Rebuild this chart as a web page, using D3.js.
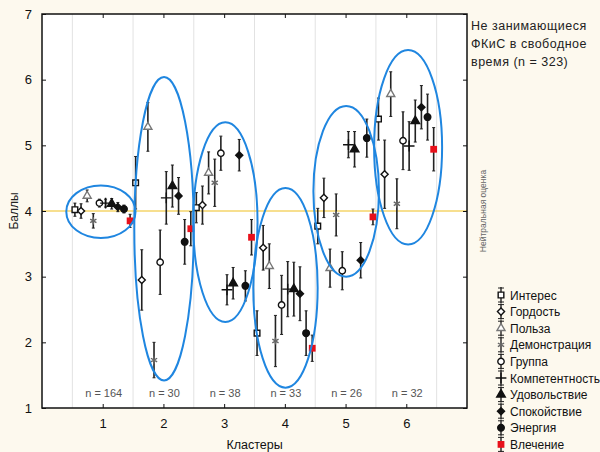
<!DOCTYPE html>
<html>
<head>
<meta charset="utf-8">
<script src="https://cdn.jsdelivr.net/npm/d3@7"></script>
<style>
  body { margin: 0; background: #fdf9ee; }
  svg { display: block; font-family: "Liberation Sans", Arial, sans-serif; }
</style>
</head>
<body>
<script>
'use strict';

// cluster numbers and group sizes
const clusters = [1, 2, 3, 4, 5, 6];
const clusterN = ["n = 164", "n = 30", "n = 38", "n = 33", "n = 26", "n = 32"];
const yTicks = [1, 2, 3, 4, 5, 6, 7];
const neutral = 4;

// motive scales (legend order)
const series = ["Интерес", "Гордость", "Польза", "Демонстрация", "Группа",
  "Компетентность", "Удовольствие", "Спокойствие", "Энергия", "Влечение"];

// mean score of each scale in clusters 1..6
const interes = [4.02, 4.43, 4.05, 2.14, 3.77, 5.40];
const gordost = [4.00, 2.95, 4.09, 3.44, 4.20, 4.56];
const polza = [4.23, 5.28, 4.58, 3.16, 3.13, 5.78];
const demonstr = [3.85, 1.73, 4.43, 2.02, 3.94, 4.11];
const gruppa = [4.12, 3.22, 4.88, 2.57, 3.09, 5.07];
const kompet = [4.12, 4.20, 2.80, 2.81, 5.01, 4.99];
const udovol = [4.11, 4.38, 2.90, 2.81, 4.94, 5.37];
const spokoi = [4.06, 4.23, 4.85, 2.74, 3.25, 5.58];
const energy = [4.03, 3.53, 2.86, 2.14, 5.11, 5.43];
const vlechen = [3.85, 3.73, 3.60, 1.91, 3.91, 4.94];

// half width of the confidence interval
const interesCI = [0.10, 0.40, 0.23, 0.34, 0.27, 0.32];
const gordostCI = [0.11, 0.46, 0.29, 0.34, 0.30, 0.52];
const polzaCI = [0.09, 0.37, 0.32, 0.34, 0.29, 0.34];
const demonstrCI = [0.11, 0.27, 0.36, 0.39, 0.32, 0.38];
const gruppaCI = [0.06, 0.49, 0.26, 0.45, 0.29, 0.44];
const kompetCI = [0.06, 0.40, 0.23, 0.42, 0.20, 0.37];
const udovolCI = [0.08, 0.32, 0.24, 0.41, 0.27, 0.32];
const spokoiCI = [0.07, 0.28, 0.24, 0.41, 0.27, 0.33];
const energyCI = [0.06, 0.34, 0.23, 0.34, 0.29, 0.35];
const vlechenCI = [0.10, 0.26, 0.27, 0.20, 0.12, 0.33];

// ellipses round each cluster (center, radii in data units)
const ellipseCx = [0.97, 2.01, 3.02, 4.01, 5.01, 6.03];
const ellipseCy = [3.99, 3.73, 3.83, 2.83, 4.30, 4.97];
const ellipseRx = [0.57, 0.49, 0.53, 0.53, 0.54, 0.56];
const ellipseRy = [0.40, 2.31, 1.52, 1.52, 1.30, 1.48];

(function () {

  const means = [interes, gordost, polza, demonstr, gruppa, kompet, udovol, spokoi, energy, vlechen];
  const cis = [interesCI, gordostCI, polzaCI, demonstrCI, gruppaCI, kompetCI, udovolCI, spokoiCI, energyCI, vlechenCI];

  // marker style for each scale
  const markers = [
    { type: d3.symbolSquare, size: 32, fill: "#fff", stroke: "#111" },
    { type: d3.symbolDiamond2, size: 32, fill: "#fff", stroke: "#111" },
    { type: d3.symbolTriangle, size: 28, fill: "#fff", stroke: "#777" },
    { type: d3.symbolAsterisk, size: 36, fill: "none", stroke: "#666" },
    { type: d3.symbolCircle, size: 32, fill: "#fff", stroke: "#111" },
    { type: d3.symbolPlus, size: 40, fill: "none", stroke: "#111" },
    { type: d3.symbolTriangle, size: 32, fill: "#111", stroke: "#111" },
    { type: d3.symbolDiamond2, size: 32, fill: "#111", stroke: "#111" },
    { type: d3.symbolCircle, size: 34, fill: "#111", stroke: "#111" },
    { type: d3.symbolSquare, size: 46, fill: "#e8101a", stroke: "none" }
  ];

  const width = 600, height = 452;
  const plot = { left: 42, right: 467, top: 14, bottom: 408 };

  const svg = d3.select("body").append("svg")
    .attr("width", width)
    .attr("height", height);

  const x = d3.scaleLinear().domain([0, 7]).range([plot.left, plot.right]);
  const y = d3.scaleLinear().domain([1, 7]).range([plot.bottom, plot.top]);

  // white plot area
  svg.append("rect")
    .attr("x", plot.left).attr("y", plot.top)
    .attr("width", plot.right - plot.left).attr("height", plot.bottom - plot.top)
    .attr("fill", "#fff");

  // vertical grid between clusters
  svg.append("g").selectAll("line")
    .data(d3.range(0.5, 7, 1))
    .enter().append("line")
    .attr("x1", (d) => x(d)).attr("x2", (d) => x(d))
    .attr("y1", plot.top).attr("y2", plot.bottom)
    .attr("stroke", "#e2e2e2");

  // neutral score line
  svg.append("line")
    .attr("x1", plot.left).attr("x2", plot.right)
    .attr("y1", y(neutral)).attr("y2", y(neutral))
    .attr("stroke", "#f0c020").attr("stroke-width", 1.2);

  // axes, ticks point inside
  const axisStyle = (g) => {
    g.select(".domain").remove();
    g.selectAll("text").attr("fill", "#111").style("font-size", "13px");
    g.selectAll("line").attr("stroke", "#111");
  };
  svg.append("g")
    .attr("transform", "translate(0," + plot.bottom + ")")
    .call(d3.axisBottom(x).tickValues(clusters).tickFormat(d3.format("d"))
      .tickSizeInner(-4).tickPadding(11))
    .call(axisStyle);
  svg.append("g")
    .attr("transform", "translate(0," + plot.top + ")")
    .call(d3.axisTop(x).tickValues(clusters).tickSizeInner(-4).tickFormat(""))
    .call(axisStyle);
  svg.append("g")
    .attr("transform", "translate(" + plot.left + ",0)")
    .call(d3.axisLeft(y).tickValues(yTicks).tickFormat(d3.format("d"))
      .tickSizeInner(-4).tickPadding(10))
    .call(axisStyle);
  svg.append("g")
    .attr("transform", "translate(" + plot.right + ",0)")
    .call(d3.axisRight(y).tickValues(yTicks).tickSizeInner(-4).tickFormat(""))
    .call(axisStyle);

  svg.append("rect")
    .attr("x", plot.left).attr("y", plot.top)
    .attr("width", plot.right - plot.left).attr("height", plot.bottom - plot.top)
    .attr("fill", "none").attr("stroke", "#111").attr("stroke-width", 1.5);

  // n labels
  svg.append("g").selectAll("text")
    .data(clusterN)
    .enter().append("text")
    .attr("x", (d, i) => x(clusters[i]) + 1)
    .attr("y", 397)
    .attr("text-anchor", "middle")
    .style("font-size", "11px")
    .attr("fill", "#555")
    .text((d) => d);

  // flat list of points
  let points = [];
  series.forEach((name, s) => {
    clusters.forEach((c, i) => {
      points.push({ s: s, x: c - 0.458 + s * 0.101, mean: means[s][i], ci: cis[s][i] });
    });
  });

  // error bars
  const bars = svg.append("g").attr("stroke", "#222").attr("stroke-width", 1.6);
  bars.selectAll(".bar")
    .data(points)
    .enter().append("line")
    .attr("x1", (d) => x(d.x)).attr("x2", (d) => x(d.x))
    .attr("y1", (d) => y(d.mean - d.ci)).attr("y2", (d) => y(d.mean + d.ci));
  bars.selectAll(".capTop")
    .data(points)
    .enter().append("line")
    .attr("stroke-width", 1)
    .attr("x1", (d) => x(d.x) - 1.5).attr("x2", (d) => x(d.x) + 1.5)
    .attr("y1", (d) => y(d.mean + d.ci)).attr("y2", (d) => y(d.mean + d.ci));
  bars.selectAll(".capBottom")
    .data(points)
    .enter().append("line")
    .attr("stroke-width", 1)
    .attr("x1", (d) => x(d.x) - 1.5).attr("x2", (d) => x(d.x) + 1.5)
    .attr("y1", (d) => y(d.mean - d.ci)).attr("y2", (d) => y(d.mean - d.ci));

  // markers
  svg.append("g").selectAll("path")
    .data(points)
    .enter().append("path")
    .attr("transform", (d) => "translate(" + x(d.x) + "," + y(d.mean) + ")")
    .attr("d", (d) => d3.symbol().type(markers[d.s].type).size(markers[d.s].size)())
    .attr("fill", (d) => markers[d.s].fill)
    .attr("stroke", (d) => markers[d.s].stroke)
    .attr("stroke-width", 1.4);

  // cluster ellipses
  svg.append("g").selectAll("ellipse")
    .data(clusters)
    .enter().append("ellipse")
    .attr("cx", (d, i) => x(ellipseCx[i]))
    .attr("cy", (d, i) => y(ellipseCy[i]))
    .attr("rx", (d, i) => x(ellipseRx[i]) - x(0))
    .attr("ry", (d, i) => y(0) - y(ellipseRy[i]))
    .attr("fill", "none")
    .attr("stroke", "#1f86e0")
    .attr("stroke-width", 2);

  // axis titles
  svg.append("text")
    .attr("transform", "translate(18," + y(4) + ")rotate(-90)")
    .attr("text-anchor", "middle")
    .style("font-size", "12px")
    .attr("fill", "#222")
    .text("Баллы");

  svg.append("text")
    .attr("x", (plot.left + plot.right) / 2)
    .attr("y", 449)
    .attr("text-anchor", "middle")
    .style("font-size", "12.5px")
    .attr("fill", "#111")
    .text("Кластеры");

  svg.append("text")
    .attr("transform", "translate(486," + y(4) + ")rotate(-90)")
    .attr("text-anchor", "middle")
    .style("font-size", "8.5px")
    .attr("fill", "#666")
    .text("Нейтральная оценка");

  // group caption
  svg.append("g").selectAll("text")
    .data(["Не занимающиеся", "ФКиС в свободное", "время (n = 323)"])
    .enter().append("text")
    .attr("x", 471)
    .attr("y", (d, i) => 30 + i * 18)
    .style("font-size", "12.5px")
    .style("letter-spacing", "0.5px")
    .attr("fill", "#222")
    .text((d) => d);

  // legend
  const legend = svg.append("g").selectAll("g")
    .data(series)
    .enter().append("g")
    .attr("transform", (d, i) => "translate(501," + (295 + i * 16.6) + ")");
  legend.append("line")
    .attr("y1", -8).attr("y2", 8)
    .attr("stroke", "#222").attr("stroke-width", 1.4);
  legend.append("line")
    .attr("x1", -3).attr("x2", 3).attr("y1", -7).attr("y2", -7)
    .attr("stroke", "#222");
  legend.append("line")
    .attr("x1", -3).attr("x2", 3).attr("y1", 7).attr("y2", 7)
    .attr("stroke", "#222");
  legend.append("path")
    .attr("d", (d, i) => d3.symbol().type(markers[i].type).size(markers[i].size)())
    .attr("fill", (d, i) => markers[i].fill)
    .attr("stroke", (d, i) => markers[i].stroke)
    .attr("stroke-width", 1.4);
  legend.append("text")
    .attr("x", 9)
    .attr("y", 4.5)
    .style("font-size", "12px")
    .attr("fill", "#111")
    .text((d) => d);

})();
</script>
</body>
</html>
